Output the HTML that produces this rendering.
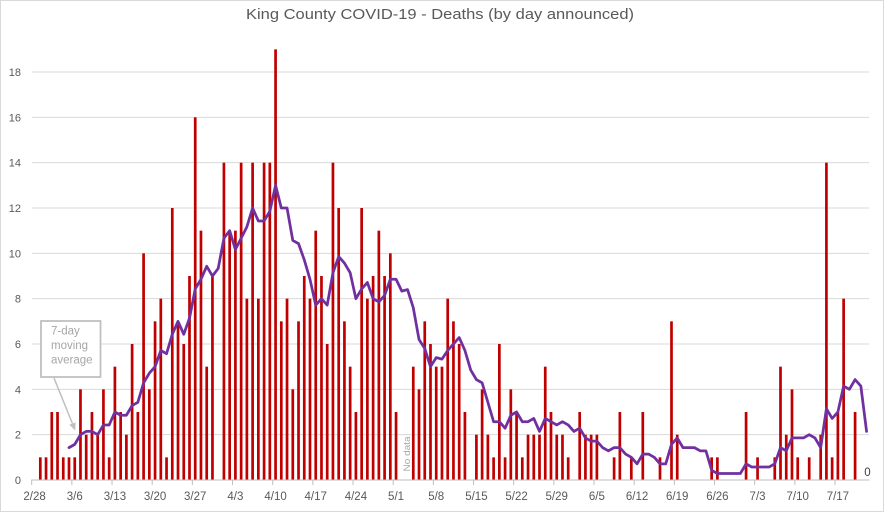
<!DOCTYPE html>
<html><head><meta charset="utf-8"><style>
html,body{margin:0;padding:0;background:#fff;}
svg{display:block;}
text{font-family:"Liberation Sans",Arial,sans-serif;}
</style></head><body>
<svg width="884" height="512" viewBox="0 0 884 512" xmlns="http://www.w3.org/2000/svg">
<rect x="0" y="0" width="884" height="512" fill="#fff"/>
<rect x="0.5" y="0.5" width="883" height="511" fill="none" stroke="#d9d9d9" stroke-width="1"/>
<text x="246" y="19" font-size="15" fill="#595959" textLength="388" lengthAdjust="spacingAndGlyphs">King County COVID-19 - Deaths (by day announced)</text>
<g stroke="#d9d9d9" stroke-width="1">
<line x1="31.7" y1="434.67" x2="869" y2="434.67"/>
<line x1="31.7" y1="389.33" x2="869" y2="389.33"/>
<line x1="31.7" y1="344" x2="869" y2="344"/>
<line x1="31.7" y1="298.67" x2="869" y2="298.67"/>
<line x1="31.7" y1="253.33" x2="869" y2="253.33"/>
<line x1="31.7" y1="208" x2="869" y2="208"/>
<line x1="31.7" y1="162.67" x2="869" y2="162.67"/>
<line x1="31.7" y1="117.33" x2="869" y2="117.33"/>
<line x1="31.7" y1="72" x2="869" y2="72"/>
</g>
<g font-size="11" fill="#595959" text-anchor="end">
<text x="21" y="484">0</text>
<text x="21" y="438.7">2</text>
<text x="21" y="393.3">4</text>
<text x="21" y="348">6</text>
<text x="21" y="302.7">8</text>
<text x="21" y="257.3">10</text>
<text x="21" y="212">12</text>
<text x="21" y="166.7">14</text>
<text x="21" y="121.3">16</text>
<text x="21" y="76">18</text>
</g>
<g fill="#c00000" transform="translate(-1.35,480) scale(1,-22.6667)">
<rect x="40.31" width="2.7" height="1"/><rect x="46.04" width="2.7" height="1"/><rect x="51.78" width="2.7" height="3"/><rect x="57.52" width="2.7" height="3"/><rect x="63.26" width="2.7" height="1"/><rect x="69.00" width="2.7" height="1"/><rect x="74.74" width="2.7" height="1"/><rect x="80.47" width="2.7" height="4"/><rect x="86.21" width="2.7" height="2"/><rect x="91.95" width="2.7" height="3"/><rect x="97.69" width="2.7" height="2"/><rect x="103.43" width="2.7" height="4"/><rect x="109.16" width="2.7" height="1"/><rect x="114.90" width="2.7" height="5"/><rect x="120.64" width="2.7" height="3"/><rect x="126.38" width="2.7" height="2"/><rect x="132.12" width="2.7" height="6"/><rect x="137.85" width="2.7" height="3"/><rect x="143.59" width="2.7" height="10"/><rect x="149.33" width="2.7" height="4"/><rect x="155.07" width="2.7" height="7"/><rect x="160.81" width="2.7" height="8"/><rect x="166.54" width="2.7" height="1"/><rect x="172.28" width="2.7" height="12"/><rect x="178.02" width="2.7" height="7"/><rect x="183.76" width="2.7" height="6"/><rect x="189.50" width="2.7" height="9"/><rect x="195.23" width="2.7" height="16"/><rect x="200.97" width="2.7" height="11"/><rect x="206.71" width="2.7" height="5"/><rect x="212.45" width="2.7" height="9"/>
<rect x="223.92" width="2.7" height="14"/><rect x="229.66" width="2.7" height="11"/><rect x="235.40" width="2.7" height="11"/><rect x="241.14" width="2.7" height="14"/><rect x="246.88" width="2.7" height="8"/><rect x="252.61" width="2.7" height="14"/><rect x="258.35" width="2.7" height="8"/><rect x="264.09" width="2.7" height="14"/><rect x="269.83" width="2.7" height="14"/><rect x="275.57" width="2.7" height="19"/><rect x="281.30" width="2.7" height="7"/><rect x="287.04" width="2.7" height="8"/><rect x="292.78" width="2.7" height="4"/><rect x="298.52" width="2.7" height="7"/><rect x="304.26" width="2.7" height="9"/><rect x="309.99" width="2.7" height="8"/><rect x="315.73" width="2.7" height="11"/><rect x="321.47" width="2.7" height="9"/><rect x="327.21" width="2.7" height="6"/><rect x="332.95" width="2.7" height="14"/><rect x="338.68" width="2.7" height="12"/><rect x="344.42" width="2.7" height="7"/><rect x="350.16" width="2.7" height="5"/><rect x="355.90" width="2.7" height="3"/><rect x="361.64" width="2.7" height="12"/><rect x="367.37" width="2.7" height="8"/><rect x="373.11" width="2.7" height="9"/><rect x="378.85" width="2.7" height="11"/><rect x="384.59" width="2.7" height="9"/><rect x="390.33" width="2.7" height="10"/><rect x="396.06" width="2.7" height="3"/>
<rect x="413.28" width="2.7" height="5"/><rect x="419.02" width="2.7" height="4"/><rect x="424.75" width="2.7" height="7"/><rect x="430.49" width="2.7" height="6"/><rect x="436.23" width="2.7" height="5"/><rect x="441.97" width="2.7" height="5"/><rect x="447.71" width="2.7" height="8"/><rect x="453.44" width="2.7" height="7"/><rect x="459.18" width="2.7" height="6"/><rect x="464.92" width="2.7" height="3"/><rect x="476.40" width="2.7" height="2"/><rect x="482.13" width="2.7" height="4"/><rect x="487.87" width="2.7" height="2"/><rect x="493.61" width="2.7" height="1"/><rect x="499.35" width="2.7" height="6"/><rect x="505.09" width="2.7" height="1"/><rect x="510.82" width="2.7" height="4"/><rect x="516.56" width="2.7" height="3"/><rect x="522.30" width="2.7" height="1"/><rect x="528.04" width="2.7" height="2"/><rect x="533.78" width="2.7" height="2"/><rect x="539.51" width="2.7" height="2"/><rect x="545.25" width="2.7" height="5"/><rect x="550.99" width="2.7" height="3"/><rect x="556.73" width="2.7" height="2"/><rect x="562.47" width="2.7" height="2"/><rect x="568.20" width="2.7" height="1"/>
<rect x="579.68" width="2.7" height="3"/><rect x="585.42" width="2.7" height="2"/><rect x="591.16" width="2.7" height="2"/><rect x="596.89" width="2.7" height="2"/><rect x="614.11" width="2.7" height="1"/><rect x="619.85" width="2.7" height="3"/><rect x="631.32" width="2.7" height="1"/><rect x="642.80" width="2.7" height="3"/><rect x="660.01" width="2.7" height="1"/><rect x="671.49" width="2.7" height="7"/><rect x="677.23" width="2.7" height="2"/><rect x="711.65" width="2.7" height="1"/><rect x="717.39" width="2.7" height="1"/><rect x="746.08" width="2.7" height="3"/><rect x="757.56" width="2.7" height="1"/><rect x="774.77" width="2.7" height="1"/><rect x="780.51" width="2.7" height="5"/><rect x="786.25" width="2.7" height="2"/><rect x="791.99" width="2.7" height="4"/><rect x="797.72" width="2.7" height="1"/><rect x="809.20" width="2.7" height="1"/><rect x="820.68" width="2.7" height="2"/><rect x="826.41" width="2.7" height="14"/><rect x="832.15" width="2.7" height="1"/><rect x="837.89" width="2.7" height="3"/><rect x="843.63" width="2.7" height="8"/><rect x="855.10" width="2.7" height="3"/>
</g>
<line x1="31.2" y1="480" x2="869.5" y2="480" stroke="#bfbfbf" stroke-width="1"/>
<g stroke="#bfbfbf" stroke-width="1">
<line x1="31.7" y1="480" x2="31.7" y2="485"/><line x1="71.87" y1="480" x2="71.87" y2="485"/><line x1="112.03" y1="480" x2="112.03" y2="485"/><line x1="152.2" y1="480" x2="152.2" y2="485"/><line x1="192.36" y1="480" x2="192.36" y2="485"/><line x1="232.53" y1="480" x2="232.53" y2="485"/><line x1="272.7" y1="480" x2="272.7" y2="485"/><line x1="312.86" y1="480" x2="312.86" y2="485"/><line x1="353.03" y1="480" x2="353.03" y2="485"/><line x1="393.19" y1="480" x2="393.19" y2="485"/><line x1="433.36" y1="480" x2="433.36" y2="485"/><line x1="473.53" y1="480" x2="473.53" y2="485"/><line x1="513.69" y1="480" x2="513.69" y2="485"/><line x1="553.86" y1="480" x2="553.86" y2="485"/><line x1="594.02" y1="480" x2="594.02" y2="485"/><line x1="634.19" y1="480" x2="634.19" y2="485"/><line x1="674.36" y1="480" x2="674.36" y2="485"/><line x1="714.52" y1="480" x2="714.52" y2="485"/><line x1="754.69" y1="480" x2="754.69" y2="485"/><line x1="794.85" y1="480" x2="794.85" y2="485"/><line x1="835.02" y1="480" x2="835.02" y2="485"/>
</g>
<g font-size="11.5" fill="#595959" text-anchor="middle">
<text x="34.57" y="500">2/28</text><text x="74.74" y="500">3/6</text><text x="114.9" y="500">3/13</text><text x="155.07" y="500">3/20</text><text x="195.23" y="500">3/27</text><text x="235.4" y="500">4/3</text><text x="275.57" y="500">4/10</text><text x="315.73" y="500">4/17</text><text x="355.9" y="500">4/24</text><text x="396.06" y="500">5/1</text><text x="436.23" y="500">5/8</text><text x="476.4" y="500">5/15</text><text x="516.56" y="500">5/22</text><text x="556.73" y="500">5/29</text><text x="596.89" y="500">6/5</text><text x="637.06" y="500">6/12</text><text x="677.23" y="500">6/19</text><text x="717.39" y="500">6/26</text><text x="757.56" y="500">7/3</text><text x="797.72" y="500">7/10</text><text x="837.89" y="500">7/17</text>
</g>
<polyline transform="translate(0,480) scale(1,-22.6667)" vector-effect="non-scaling-stroke" fill="none" stroke="#7030a0" stroke-width="2.75" stroke-linejoin="round" stroke-linecap="round" points="69.00,1.4286 74.74,1.5714 80.47,2.0 86.21,2.1429 91.95,2.1429 97.69,2.0 103.43,2.4286 109.16,2.4286 114.90,3.0 120.64,2.857 126.38,2.857 132.12,3.2857 137.85,3.4286 143.59,4.2857 149.33,4.714 155.07,5.0 160.81,5.714 166.54,5.571 172.28,6.4286 178.02,7.0 183.76,6.4286 189.50,7.1429 195.23,8.4286 200.97,8.857 206.71,9.4286 212.45,9.0 218.19,9.333 223.92,10.667 229.66,11.0 235.40,10.167 241.14,10.667 246.88,11.167 252.61,12.0 258.35,11.4286 264.09,11.4286 269.83,11.857 275.57,13.0 281.30,12.0 287.04,12.0 292.78,10.571 298.52,10.4286 304.26,9.714 309.99,8.857 315.73,7.714 321.47,8.0 327.21,7.714 332.95,9.143 338.68,9.857 344.42,9.571 350.16,9.143 355.90,8.0 361.64,8.4286 367.37,8.714 373.11,8.0 378.85,7.857 384.59,8.143 390.33,8.857 396.06,8.857 401.80,8.333 407.54,8.4 413.28,7.6 419.02,6.2 424.75,5.8 430.49,5.0 436.23,5.4 441.97,5.333 447.71,5.714 453.44,6.0 459.18,6.2857 464.92,5.714 470.66,4.857 476.40,4.4286 482.13,4.2857 487.87,3.4286 493.61,2.571 499.35,2.571 505.09,2.2857 510.82,2.857 516.56,3.0 522.30,2.571 528.04,2.571 533.78,2.714 539.51,2.143 545.25,2.714 550.99,2.571 556.73,2.4286 562.47,2.571 568.20,2.4286 573.94,2.143 579.68,2.2857 585.42,1.857 591.16,1.714 596.89,1.714 602.63,1.4286 608.37,1.2857 614.11,1.4286 619.85,1.4286 625.58,1.1429 631.32,1.0 637.06,0.714 642.80,1.1429 648.54,1.1429 654.27,1.0 660.01,0.714 665.75,0.714 671.49,1.571 677.23,1.857 682.96,1.4286 688.70,1.4286 694.44,1.4286 700.18,1.2857 705.92,1.2857 711.65,0.4286 717.39,0.2857 723.13,0.2857 728.87,0.2857 734.61,0.2857 740.34,0.2857 746.08,0.714 751.82,0.571 757.56,0.571 763.30,0.571 769.03,0.571 774.77,0.714 780.51,1.4286 786.25,1.2857 791.99,1.857 797.72,1.857 803.46,1.857 809.20,2.0 814.94,1.857 820.68,1.4286 826.41,3.143 832.15,2.714 837.89,3.0 843.63,4.143 849.37,4.0 855.10,4.4286 860.84,4.143 866.58,2.143"/>
<text transform="translate(410,454) rotate(-90)" text-anchor="middle" font-size="9.5" fill="#a6a6a6" textLength="35" lengthAdjust="spacingAndGlyphs">No data</text>
<text x="867.5" y="476" text-anchor="middle" font-size="11.5" fill="#404040">0</text>
<rect x="41" y="321" width="59.5" height="56" fill="#fff" stroke="#bfbfbf" stroke-width="1.75"/>
<g font-size="11.5" fill="#a6a6a6">
<text x="51" y="334.5">7-day</text>
<text x="51" y="349">moving</text>
<text x="51" y="363.7">average</text>
</g>
<line x1="54" y1="378" x2="72.4" y2="423.5" stroke="#bfbfbf" stroke-width="1.5"/>
<polygon points="75.2,430.5 75.6,422.4 69.4,424.8" fill="#bfbfbf"/>
</svg>
</body></html>
